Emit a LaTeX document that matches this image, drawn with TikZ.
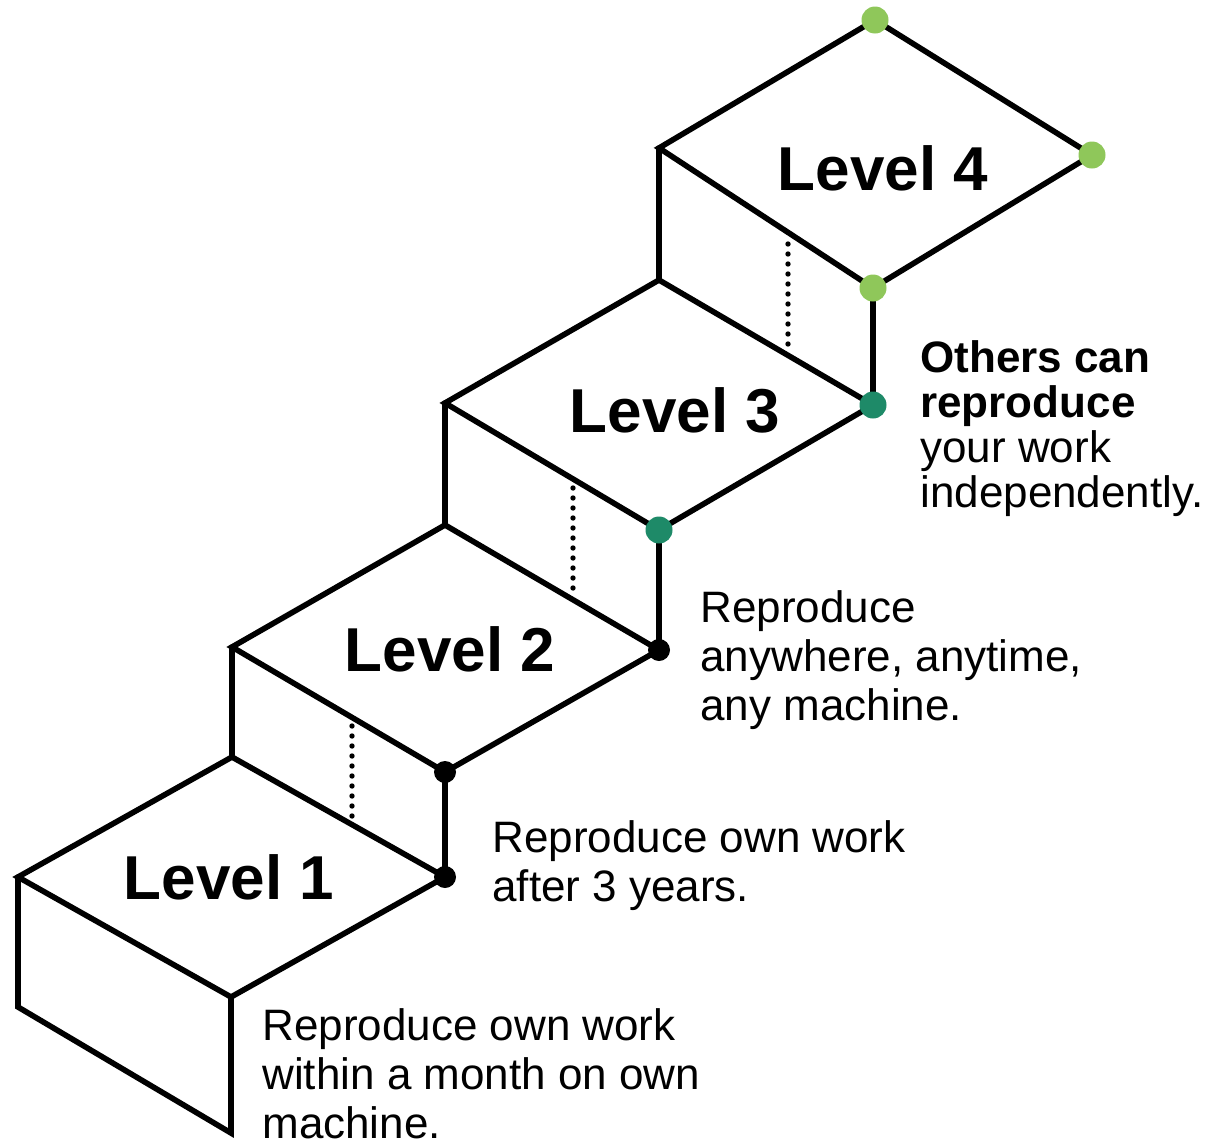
\documentclass[tikz,border=0pt]{standalone}
\usepackage{fontspec}
\setmainfont{Liberation Sans}
\definecolor{stepteal}{RGB}{30,138,104}
\definecolor{steplime}{RGB}{143,199,90}
\begin{document}
\begin{tikzpicture}[x=0.5pt, y=-0.5pt,
        edge/.style={line width=2.8pt, line join=miter, line cap=round},
        hidden/.style={line width=2.7pt, line cap=round, dash pattern=on 0pt off 5pt},
        blackdot/.style={circle, fill=black, inner sep=0pt, minimum size=11pt},
        tealdot/.style={circle, fill=stepteal, inner sep=0pt, minimum size=13.5pt},
        limedot/.style={circle, fill=steplime, inner sep=0pt, minimum size=13.5pt},
        levelname/.style={font=\bfseries\fontsize{31}{31}\selectfont},
        note/.style={anchor=north west, inner sep=0pt, align=left, font=\fontsize{22}{24.5}\selectfont}]
    \fill[white] (0,0) rectangle (1217,1146);
    \useasboundingbox (0,0) rectangle (1217,1146);

    % corners of the four steps
    \coordinate (w1) at (18,877);   \coordinate (n1) at (232,757);
    \coordinate (e1) at (445,877);  \coordinate (s1) at (231,997);
    \coordinate (wb1) at (18,1007); \coordinate (sb1) at (231,1133);
    \coordinate (w2) at (232,647);  \coordinate (n2) at (445,525);
    \coordinate (e2) at (659,650);  \coordinate (s2) at (445,772);
    \coordinate (w3) at (445,403);  \coordinate (n3) at (659,280);
    \coordinate (e3) at (873,405);  \coordinate (s3) at (659,530);
    \coordinate (w4) at (659,148);  \coordinate (n4) at (875,20);
    \coordinate (e4) at (1092,155); \coordinate (s4) at (873,288);

    % hidden edges
    \coordinate (h1a) at (352,726); \coordinate (h1b) at (352,818);
    \coordinate (h2a) at (573,488); \coordinate (h2b) at (573,594);
    \coordinate (h3a) at (788,244); \coordinate (h3b) at (788,350);
    \draw[hidden] (h1a) -- (h1b);
    \draw[hidden] (h2a) -- (h2b);
    \draw[hidden] (h3a) -- (h3b);

    % tops and risers
    \draw[edge] (w1) -- (n1) -- (e1) -- (s1) -- cycle;
    \draw[edge] (w1) -- (wb1) -- (sb1) -- (s1);
    \draw[edge] (w2) -- (n2) -- (e2) -- (s2) -- cycle;
    \draw[edge] (w2) -- (n1) (s2) -- (e1);
    \draw[edge] (w3) -- (n3) -- (e3) -- (s3) -- cycle;
    \draw[edge] (w3) -- (n2) (s3) -- (e2);
    \draw[edge] (w4) -- (n4) -- (e4) -- (s4) -- cycle;
    \draw[edge] (w4) -- (n3) (s4) -- (e3);

    % dots
    \node[blackdot] (d1) at (e1) {};
    \node[blackdot] (d2) at (s2) {};
    \node[blackdot] (d3) at (e2) {};
    \node[tealdot] (d4) at (s3) {};
    \node[tealdot] (d5) at (e3) {};
    \node[limedot] (d6) at (s4) {};
    \node[limedot] (d7) at (e4) {};
    \node[limedot] (d8) at (n4) {};

    % labels
    \node[levelname] (level1) at (229,877) {Level 1};
    \node[levelname] (level2) at (450,649) {Level 2};
    \node[levelname] (level3) at (675,410) {Level 3};
    \node[levelname] (level4) at (883,168) {Level 4};

    \node[note] (note1) at (262,1008) {Reproduce own work\\within a month on own\\machine.};
    \node[note] (note2) at (492,820) {Reproduce own work\\after 3 years.};
    \node[note] (note3) at (700,590) {Reproduce\\anywhere, anytime,\\any machine.};
    \node[note, font=\fontsize{22}{22.5}\selectfont] (note4) at (920,340)
        {\textbf{Others can}\\\textbf{reproduce}\\your work\\independently.};
\end{tikzpicture}
\end{document}
